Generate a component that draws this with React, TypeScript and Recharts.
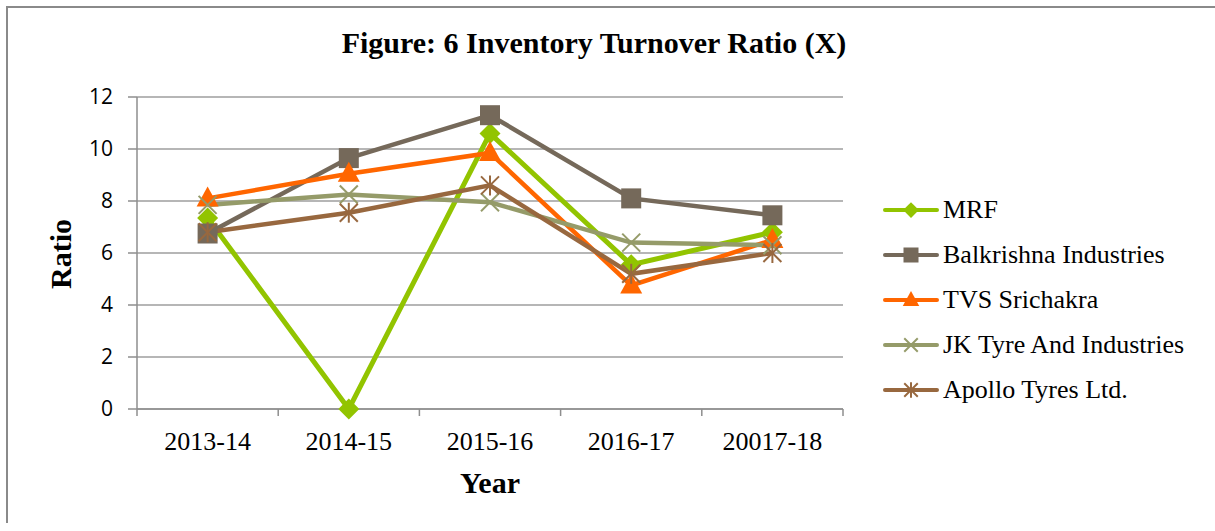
import React from 'react';
import { LineChart, Line, XAxis, YAxis, CartesianGrid } from 'recharts';

// ---- data ----
const categories = ['2013-14', '2014-15', '2015-16', '2016-17', '20017-18'];
const mrf = [7.35, 0, 10.6, 5.55, 6.8];
const balkrishna = [6.75, 9.65, 11.3, 8.1, 7.45];
const tvs = [8.1, 9.05, 9.85, 4.75, 6.5];
const jkTyre = [7.85, 8.25, 7.95, 6.4, 6.3];
const apollo = [6.8, 7.55, 8.6, 5.2, 6.0];
const yTicks = [0, 2, 4, 6, 8, 10, 12];
const xTicks = [0, 0.5, 1, 1.5, 2, 2.5, 3, 3.5, 4, 4.5, 5];

const series = [
  { key: 'mrf', name: 'MRF', values: mrf, color: '#92C400', shape: 'diamond', width: 5 },
  { key: 'balkrishna', name: 'Balkrishna Industries', values: balkrishna, color: '#75695A', shape: 'square', width: 4.5 },
  { key: 'tvs', name: 'TVS Srichakra', values: tvs, color: '#FF6600', shape: 'triangle', width: 4.5 },
  { key: 'jk', name: 'JK Tyre And Industries', values: jkTyre, color: '#959B69', shape: 'x', width: 4.5 },
  { key: 'apollo', name: 'Apollo Tyres Ltd.', values: apollo, color: '#98683F', shape: 'star', width: 4.5 },
];

const data = categories.map((c, i) => {
  const row: any = { x: i + 0.5, category: c };
  series.forEach((s) => {
    row[s.key] = s.values[i];
  });
  return row;
});

const AXIS = '#8e8e8e';
const GRID = '#9e9e9e';
const SERIF = '"Liberation Serif", "Times New Roman", serif';

function marker(shape: string, cx: number, cy: number, color: string, scale: number, key?: any) {
  const s = scale;
  switch (shape) {
    case 'diamond': {
      const h = 10.5 * s;
      return (
        <polygon key={key} points={`${cx},${cy - h} ${cx + h},${cy} ${cx},${cy + h} ${cx - h},${cy}`} fill={color} />
      );
    }
    case 'square': {
      const h = 10 * s;
      return <rect key={key} x={cx - h} y={cy - h} width={2 * h} height={2 * h} fill={color} />;
    }
    case 'triangle': {
      const w = 11 * s;
      return (
        <polygon key={key} points={`${cx},${cy - 12 * s} ${cx + w},${cy + 8 * s} ${cx - w},${cy + 8 * s}`} fill={color} />
      );
    }
    case 'x': {
      const h = 9 * s;
      return (
        <g key={key} stroke={color} strokeWidth={2}>
          <line x1={cx - h} y1={cy - h} x2={cx + h} y2={cy + h} />
          <line x1={cx - h} y1={cy + h} x2={cx + h} y2={cy - h} />
        </g>
      );
    }
    default: {
      const h = 9 * s;
      return (
        <g key={key} stroke={color} strokeWidth={2}>
          <line x1={cx - h} y1={cy - h} x2={cx + h} y2={cy + h} />
          <line x1={cx - h} y1={cy + h} x2={cx + h} y2={cy - h} />
          <line x1={cx} y1={cy - h - 1} x2={cx} y2={cy + h + 1} />
        </g>
      );
    }
  }
}

const XTick = (props: any) => {
  const { x, y, payload } = props;
  const v = payload.value;
  if (Math.abs(v - Math.round(v)) < 1e-6) {
    return <line x1={x} y1={y} x2={x} y2={y + 7} stroke={AXIS} strokeWidth={1.5} />;
  }
  return (
    <text x={x} y={y + 41} textAnchor="middle" fontFamily={SERIF} fontSize={26} fill="#000">
      {categories[Math.floor(v)]}
    </text>
  );
};

const RatioLabel = () => (
  <text
    x={63}
    y={246}
    transform="rotate(-90 63 246)"
    textAnchor="middle"
    fontFamily={SERIF}
    fontWeight="bold"
    fontSize={30}
    fill="#000"
  >
    Ratio
  </text>
);

const YearLabel = () => (
  <text x={482} y={485} textAnchor="middle" fontFamily={SERIF} fontWeight="bold" fontSize={30} fill="#000">
    Year
  </text>
);

export default function App() {
  return (
    <div
      style={{
        position: 'absolute',
        left: 6,
        top: 6,
        width: 1207,
        height: 515,
        borderLeft: '2px solid #8a8a8a',
        borderTop: '2px solid #8a8a8a',
        background: '#fff',
      }}
    >
      <div
        style={{
          position: 'absolute',
          left: 186,
          top: 20,
          width: 800,
          textAlign: 'center',
          fontFamily: SERIF,
          fontWeight: 'bold',
          fontSize: 30,
          lineHeight: '30px',
          whiteSpace: 'nowrap',
          color: '#000',
        }}
      >
        Figure: 6 Inventory Turnover Ratio (X)
      </div>
      <LineChart width={1199} height={515} data={data} margin={{ top: 89, right: 364, left: 0, bottom: 74 }}>
        <CartesianGrid vertical={false} stroke={GRID} strokeWidth={1.5} />
        <XAxis
          dataKey="x"
          type="number"
          domain={[0, 5]}
          ticks={xTicks}
          interval={0}
          tick={<XTick />}
          tickLine={false}
          tickSize={0}
          tickMargin={0}
          axisLine={{ stroke: AXIS, strokeWidth: 1.5 }}
          height={40}
          label={<YearLabel />}
        />
        <YAxis
          domain={[0, 12]}
          ticks={yTicks}
          width={129}
          tickSize={9}
          tickMargin={15}
          tickLine={{ stroke: AXIS, strokeWidth: 1.5 }}
          axisLine={{ stroke: AXIS, strokeWidth: 1.5 }}
          tick={{ fontFamily: '"Open Sans", sans-serif', fontSize: 21, fill: '#000' }}
          label={<RatioLabel />}
        />
        {series.map((s) => (
          <Line
            key={s.key}
            dataKey={s.key}
            name={s.name}
            type="linear"
            stroke={s.color}
            strokeWidth={s.width}
            isAnimationActive={false}
            dot={(p: any) => marker(s.shape, p.cx, p.cy, s.color, 1, `${s.key}-${p.index}`)}
            activeDot={false}
          />
        ))}
      </LineChart>
      <div style={{ position: 'absolute', left: 875, top: 178.7 }}>
        {series.map((s) => (
          <div key={s.key} style={{ display: 'flex', alignItems: 'flex-start', height: 45 }}>
            <svg width={60} height={45} style={{ display: 'block' }}>
              <line x1={2} y1={23} x2={54} y2={23} stroke={s.color} strokeWidth={4} strokeLinecap="round" />
              {marker(s.shape, 28, 23, s.color, 0.75)}
            </svg>
            <span
              style={{
                fontFamily: SERIF,
                fontSize: 26,
                lineHeight: '45px',
                whiteSpace: 'nowrap',
                color: '#000',
              }}
            >
              {s.name}
            </span>
          </div>
        ))}
      </div>
    </div>
  );
}
